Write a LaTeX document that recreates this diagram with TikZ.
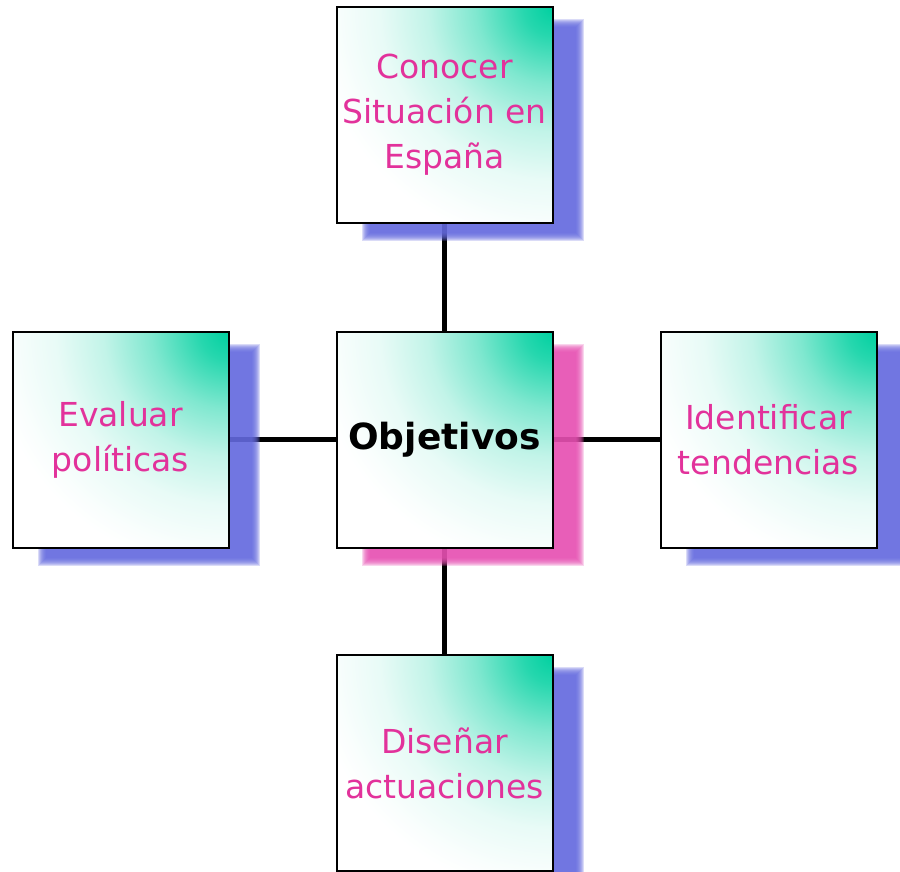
\documentclass[tikz,border=0pt]{standalone}
\usepackage{fontspec}
\setmainfont{DejaVu Sans}
\usetikzlibrary{calc}
\definecolor{tealc}{RGB}{0,208,160}
\definecolor{txtmag}{RGB}{226,50,155}
\definecolor{shblue}{RGB}{100,106,222}
\definecolor{shpink}{RGB}{230,80,178}
\pgfdeclareradialshading{cornershade}{\pgfpoint{0bp}{0bp}}{color(0bp)=(tealc); color(3bp)=(tealc!85); color(8bp)=(tealc!50); color(13bp)=(tealc!24); color(18bp)=(tealc!9); color(23bp)=(tealc!2); color(25bp)=(white); color(50bp)=(white)}
\pgfdeclarelayer{bg}
\pgfdeclarelayer{shadowlayer}
\pgfsetlayers{bg,shadowlayer,main}
\tikzset{
  objbox/.style={draw=black, line width=2pt, minimum width=216pt, minimum height=216pt,
    inner sep=0pt, fill=white, align=center, text=txtmag,
    path picture={\shade[shading=cornershade] (path picture bounding box.north east) circle (240pt);},
    font=\fontsize{33}{45}\selectfont},
  centerbox/.style={objbox, text=black, font=\bfseries\fontsize{36}{44}\selectfont},
  link/.style={line width=4.5pt, black},
}
\newcommand{\softshadow}[2]{%
  \foreach \k in {0,...,8}{
    \fill[#2, opacity=0.24]
      ($(#1.south west)+(26.5+\k,-17-\k+2*\k)$) rectangle ($(#1.north east)+(30.5-\k,-13+\k-2*\k)$);
  }}
\begin{document}
\begin{tikzpicture}[x=1pt,y=1pt]
\useasboundingbox (0,0) rectangle (900,-872);
\node[objbox] (top) at (444.5,-115) {Conocer\\Situación en\\España};
\node[centerbox] (obj) at (444.5,-439.5) {Objetivos};
\node[objbox] (left) at (120.5,-439.5) {Evaluar\\políticas};
\node[objbox] (right) at (768.5,-439.5) {Identificar\\tendencias};
\node[objbox] (bottom) at (444.5,-763) {Diseñar\\actuaciones};
\begin{pgfonlayer}{shadowlayer}
  \softshadow{top}{shblue}
  \softshadow{obj}{shpink}
  \softshadow{left}{shblue}
  \softshadow{right}{shblue}
  \softshadow{bottom}{shblue}
\end{pgfonlayer}
\begin{pgfonlayer}{bg}
  \draw[link] (top) -- (obj);
  \draw[link] (left) -- (obj);
  \draw[link] (obj) -- (right);
  \draw[link] (obj) -- (bottom);
\end{pgfonlayer}
\end{tikzpicture}
\end{document}
